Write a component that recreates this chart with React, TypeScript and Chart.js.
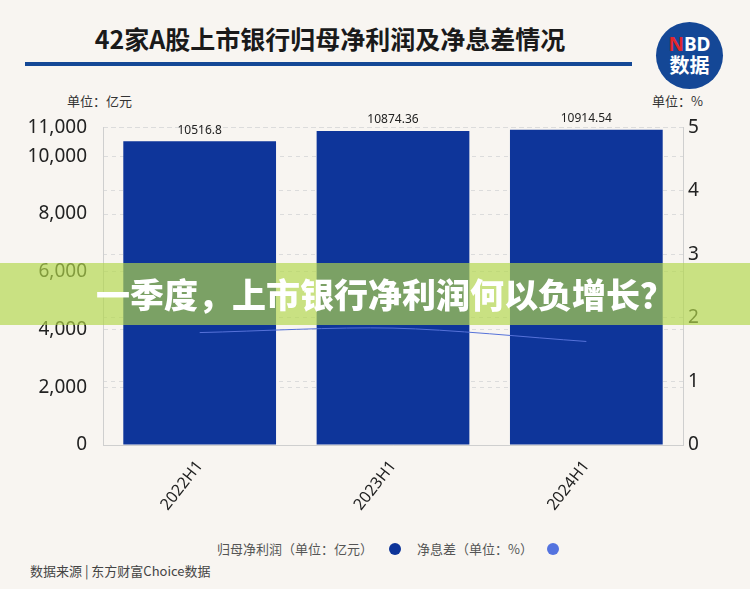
import React, { useEffect, useRef } from "react";
import { Chart, registerables } from "chart.js";

Chart.register(...registerables);

const categories = ["2022H1", "2023H1", "2024H1"];
const netProfit = [10516.8, 10874.36, 10914.54];
const netInterestMargin = [1.77, 1.84, 1.63];
const leftTicks = [0, 2000, 4000, 6000, 8000, 10000, 11000];
const rightTicks = [0, 1, 2, 3, 4, 5];

const BG = "#f8f5f1";
const BAR = "#0e359a";
const LINE = "#5672d9";
const CJK = '"Noto Sans CJK SC", "Noto Sans", sans-serif';
const NUM = '"Noto Sans", "Open Sans", sans-serif';

const valueLabels = {
  id: "valueLabels",
  afterDatasetsDraw(chart: any) {
    const ctx = chart.ctx;
    const meta = chart.getDatasetMeta(0);
    ctx.save();
    ctx.font = `12px ${NUM}`;
    ctx.fillStyle = "#222";
    ctx.textAlign = "center";
    ctx.textBaseline = "bottom";
    meta.data.forEach((bar: any, i: number) => {
      ctx.fillText(String(netProfit[i]), bar.x, bar.y - 5);
    });
    ctx.restore();
  },
};

function ChartBox() {
  const ref = useRef<HTMLCanvasElement>(null);
  useEffect(() => {
    if (!ref.current) return;
    const chart = new Chart(ref.current, {
      type: "bar",
      data: {
        labels: categories,
        datasets: [
          {
            type: "bar",
            label: "归母净利润",
            data: netProfit,
            backgroundColor: BAR,
            yAxisID: "y",
            barPercentage: 0.79,
            categoryPercentage: 1,
            order: 2,
          },
          {
            type: "line",
            label: "净息差",
            data: netInterestMargin,
            borderColor: LINE,
            borderWidth: 1,
            pointRadius: 0,
            tension: 0.3,
            yAxisID: "y1",
            order: 1,
          } as any,
        ],
      },
      options: {
        animation: false,
        responsive: true,
        maintainAspectRatio: false,
        layout: { padding: { top: 18, left: 0, right: 0, bottom: 0 } },
        plugins: { legend: { display: false }, tooltip: { enabled: false } },
        scales: {
          x: {
            grid: { display: false },
            border: { display: true, color: "#cfcfcf", width: 1 },
            ticks: {
              color: "#222",
              font: { size: 16, family: NUM },
              minRotation: 52,
              maxRotation: 52,
              padding: 4,
            },
            afterFit: (s: any) => {
              s.height = 85;
            },
          },
          y: {
            position: "left",
            min: 0,
            max: 11000,
            afterBuildTicks: (s: any) => {
              s.ticks = leftTicks.map((v) => ({ value: v }));
            },
            afterFit: (s: any) => {
              s.width = 103;
            },
            ticks: {
              color: "#222",
              font: { size: 19, family: NUM },
              padding: 16,
              callback: (v: any) => Number(v).toLocaleString("en-US"),
            },
            grid: { color: "#dcdcdc", drawTicks: false, lineWidth: 1 },
            border: { display: true, color: "#cfcfcf", dash: [4, 4] },
          },
          y1: {
            position: "right",
            min: 0,
            max: 5,
            afterBuildTicks: (s: any) => {
              s.ticks = rightTicks.map((v) => ({ value: v }));
            },
            afterFit: (s: any) => {
              s.width = 67;
            },
            ticks: {
              color: "#222",
              font: { size: 19, family: NUM },
              padding: 5,
            },
            grid: { color: "#dcdcdc", drawTicks: false, lineWidth: 1 },
            border: { display: true, color: "#cfcfcf", dash: [4, 4] },
          },
        },
      },
      plugins: [valueLabels],
    });
    return () => chart.destroy();
  }, []);
  return <canvas ref={ref} />;
}

export default function App() {
  return (
    <div
      style={{
        position: "absolute",
        left: 0,
        top: 0,
        width: 750,
        height: 589,
        background: BG,
        overflow: "hidden",
        fontFamily: CJK,
      }}
    >
      <div
        style={{
          position: "absolute",
          left: 30,
          width: 600,
          top: 20,
          textAlign: "center",
          fontSize: 25,
          fontWeight: 700,
          color: "#1a1a1a",
          lineHeight: "36px",
        }}
      >
        42家A股上市银行归母净利润及净息差情况
      </div>
      <div
        style={{
          position: "absolute",
          left: 25,
          top: 62,
          width: 607,
          height: 4,
          background: "#144896",
        }}
      />
      <div
        style={{
          position: "absolute",
          left: 656,
          top: 22,
          width: 67,
          height: 67,
          borderRadius: "50%",
          background: "#144796",
          color: "#fff",
          textAlign: "center",
          fontWeight: 700,
          fontFamily: '"Noto Sans", sans-serif',
        }}
      >
        <div style={{ fontSize: 19, lineHeight: "20px", marginTop: 12 }}>
          <span style={{ color: "#e3262c" }}>N</span>BD
        </div>
        <div style={{ fontSize: 20, lineHeight: "22px", fontFamily: CJK }}>数据</div>
      </div>
      <div
        style={{
          position: "absolute",
          left: 67,
          top: 92,
          fontSize: 13,
          color: "#333",
          lineHeight: "18px",
        }}
      >
        单位：亿元
      </div>
      <div
        style={{
          position: "absolute",
          left: 652,
          top: 92,
          fontSize: 13,
          color: "#333",
          lineHeight: "18px",
        }}
      >
        单位：%
      </div>
      <div style={{ position: "absolute", left: 0, top: 100, width: 750, height: 430 }}>
        <ChartBox />
      </div>
      <div
        style={{
          position: "absolute",
          left: 0,
          top: 540,
          width: 750,
          height: 18,
          fontSize: 13,
          color: "#555",
          lineHeight: "18px",
        }}
      >
        <span style={{ position: "absolute", left: 217, top: 0 }}>归母净利润（单位：亿元）</span>
        <span
          style={{
            position: "absolute",
            left: 389,
            top: 3,
            width: 12,
            height: 12,
            borderRadius: "50%",
            background: "#0d3499",
          }}
        />
        <span style={{ position: "absolute", left: 417, top: 0 }}>净息差（单位：%）</span>
        <span
          style={{
            position: "absolute",
            left: 547,
            top: 3,
            width: 12,
            height: 12,
            borderRadius: "50%",
            background: "#5473df",
          }}
        />
      </div>
      <div
        style={{
          position: "absolute",
          left: 30,
          top: 562,
          fontSize: 13,
          color: "#444",
          lineHeight: "18px",
        }}
      >
        数据来源 | 东方财富Choice数据
      </div>
      <div
        style={{
          position: "absolute",
          left: 0,
          top: 263,
          width: 750,
          height: 62,
          background: "rgba(178, 214, 74, 0.67)",
          zIndex: 5,
        }}
      >
        <div
          style={{
            position: "absolute",
            left: 0,
            width: 750,
            top: 0,
            height: 62,
            lineHeight: "62px",
            textAlign: "center",
            color: "#fff",
            fontWeight: 900,
            fontSize: 34,
            paddingLeft: 20,
            boxSizing: "border-box",
          }}
        >
          一季度，上市银行净利润何以负增长？
        </div>
      </div>
    </div>
  );
}
